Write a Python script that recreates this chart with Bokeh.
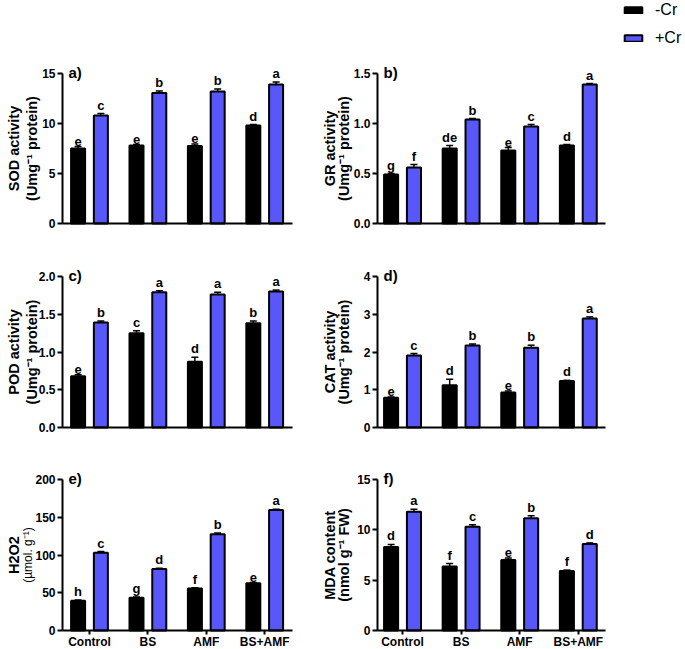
import numpy as np
from bokeh.plotting import figure
from bokeh.models import (Range1d, FixedTicker, ColumnDataSource, Whisker, TeeHead,
                          LabelSet, Label, Legend, LegendItem, NumeralTickFormatter, LinearAxis)
from bokeh.core.properties import value
from bokeh.layouts import gridplot
from bokeh.embed import file_html
from bokeh.resources import INLINE

# ---------------- data ----------------
categories = ["Control", "BS", "AMF", "BS+AMF"]
series_names = ["-Cr", "+Cr"]

sod_minus = [7.5, 7.8, 7.75, 9.8]
sod_plus = [10.8, 13.05, 13.2, 13.9]
sod_minus_err = [0.2, 0.1, 0.2, 0.1]
sod_plus_err = [0.2, 0.2, 0.25, 0.25]
sod_minus_let = ["e", "e", "e", "d"]
sod_plus_let = ["c", "b", "b", "a"]

gr_minus = [0.49, 0.75, 0.73, 0.78]
gr_plus = [0.56, 1.04, 0.97, 1.39]
gr_minus_err = [0.01, 0.03, 0.03, 0.01]
gr_plus_err = [0.03, 0.01, 0.02, 0.01]
gr_minus_let = ["g", "de", "e", "d"]
gr_plus_let = ["f", "b", "c", "a"]

pod_minus = [0.68, 1.25, 0.87, 1.38]
pod_plus = [1.39, 1.79, 1.76, 1.80]
pod_minus_err = [0.02, 0.03, 0.06, 0.03]
pod_plus_err = [0.02, 0.02, 0.03, 0.02]
pod_minus_let = ["e", "c", "d", "b"]
pod_plus_let = ["b", "a", "a", "a"]

cat_minus = [0.79, 1.12, 0.93, 1.23]
cat_plus = [1.91, 2.17, 2.11, 2.89]
cat_minus_err = [0.02, 0.16, 0.04, 0.02]
cat_plus_err = [0.05, 0.04, 0.07, 0.04]
cat_minus_let = ["e", "d", "e", "d"]
cat_plus_let = ["c", "b", "b", "a"]

h2o2_minus = [39.5, 43.5, 55.5, 62.5]
h2o2_plus = [103.0, 81.5, 127.5, 159.5]
h2o2_minus_err = [1.0, 1.0, 1.0, 1.0]
h2o2_plus_err = [1.5, 1.0, 1.5, 1.0]
h2o2_minus_let = ["h", "g", "f", "e"]
h2o2_plus_let = ["c", "d", "b", "a"]

mda_minus = [8.3, 6.35, 7.0, 5.9]
mda_plus = [11.8, 10.3, 11.15, 8.6]
mda_minus_err = [0.25, 0.3, 0.2, 0.1]
mda_plus_err = [0.25, 0.2, 0.25, 0.1]
mda_minus_let = ["d", "f", "e", "f"]
mda_plus_let = ["a", "c", "b", "d"]

sod_ticks = [0, 5, 10, 15]
gr_ticks = [0, 0.5, 1.0, 1.5]
pod_ticks = [0, 0.5, 1.0, 1.5, 2.0]
cat_ticks = [0, 1, 2, 3, 4]
h2o2_ticks = [0, 50, 100, 150, 200]
mda_ticks = [0, 5, 10, 15]

# ---------------- layout (pixels) ----------------
FONT = "Liberation Sans"
BLUE = "#5757FA"
COL_X = [(0, 312), (312, 685)]        # figure left/right on page
COL_FRAME = [(62, 292), (377, 605)]   # axes box left/right on page
COL_XR = [(-0.462, 3.476), (-0.427, 3.464)]
ROW_Y = [(0, 250), (250, 452), (452, 649)]
ROW_FRAME = [(73, 223), (276, 427), (479, 630)]
TITLE_OFF = [(-49, -31), (-48, -34)]


def panel(col, row, ticks, fmt, minus, plus, minus_err, plus_err, minus_let, plus_let,
          tag, t1, t2, t2_size="14.5px", t2_style="bold", t2_off=None):
    ymax = ticks[-1]
    fl, fr = COL_X[col]
    al, ar = COL_FRAME[col]
    x0, x1 = COL_XR[col]
    ppx = (ar - al) / (x1 - x0)
    ft, fb = ROW_Y[row]
    at, ab = ROW_FRAME[row]
    ppy = (ab - at) / ymax
    xr = Range1d(x0 - (al - fl) / ppx, x1 + (fr - ar) / ppx)
    yr = Range1d(-(fb - ab) / ppy, ymax + (at - ft) / ppy)

    p = figure(width=fr - fl, height=fb - ft, output_backend="svg", toolbar_location=None,
               x_range=xr, y_range=yr, x_axis_location=None, y_axis_location=None,
               min_border=0, min_border_left=0, min_border_right=0,
               min_border_top=0, min_border_bottom=0)
    p.outline_line_color = None
    p.grid.visible = False
    p.background_fill_color = "white"
    p.border_fill_color = "white"

    idx = np.arange(len(categories))
    xm = idx - 0.195
    xp = idx + 0.195
    rm = p.vbar(x=xm, top=minus, width=0.24, bottom=0, fill_color="black",
                line_color="black", line_width=2)
    rp = p.vbar(x=xp, top=plus, width=0.24, bottom=0, fill_color=BLUE,
                line_color="black", line_width=2)

    for xs, vals, errs, lets in ((xm, minus, minus_err, minus_let), (xp, plus, plus_err, plus_let)):
        src = ColumnDataSource(dict(x=list(xs), lower=list(vals),
                                    upper=[v + e for v, e in zip(vals, errs)], text=list(lets)))
        p.add_layout(Whisker(source=src, base="x", lower="lower", upper="upper", dimension="height",
                             line_color="black", line_width=1.5, lower_head=None,
                             upper_head=TeeHead(size=7, line_color="black", line_width=1.5)))
        p.add_layout(LabelSet(source=src, x="x", y="upper", text="text", text_align="center",
                              text_baseline="bottom", y_offset=1, text_font=value(FONT),
                              text_font_size=value("13px"), text_font_style=value("bold"),
                              text_color="black"))

    yax = LinearAxis(fixed_location=x0, bounds=(0, ymax), ticker=FixedTicker(ticks=ticks),
                     formatter=NumeralTickFormatter(format=fmt))
    xtk = list(idx) if row == 2 else []
    xax = LinearAxis(fixed_location=0, bounds=(x0, x1), ticker=FixedTicker(ticks=xtk))
    if row == 2:
        xax.major_label_overrides = {int(i): c for i, c in zip(idx, categories)}
    for ax in (xax, yax):
        ax.axis_line_width = 2
        ax.axis_line_color = "black"
        ax.major_tick_line_width = 2
        ax.major_tick_line_color = "black"
        ax.major_tick_in = 0
        ax.major_tick_out = 5
        ax.minor_tick_line_color = None
        ax.major_label_text_font = FONT
        ax.major_label_text_font_style = "bold"
        ax.major_label_text_font_size = "12px"
        ax.major_label_text_color = "black"
        ax.major_label_standoff = 2
    xax.major_tick_out = 4
    xax.major_label_standoff = 0
    p.add_layout(yax, "left")
    p.add_layout(xax, "below")

    p.add_layout(Label(x=x0, y=ymax, x_offset=6, y_offset=1, text=tag, text_font=FONT,
                       text_font_size="15px", text_font_style="bold", text_baseline="middle",
                       text_align="left", text_color="black"))
    o1, o2 = TITLE_OFF[col]
    if t2_off is not None:
        o2 = t2_off
    p.add_layout(Label(x=x0, y=ymax / 2, x_offset=o1, text=t1, angle=90, angle_units="deg",
                       text_font=FONT, text_font_size="14.5px", text_font_style="bold",
                       text_align="center", text_baseline="middle", text_color="black"))
    p.add_layout(Label(x=x0, y=ymax / 2, x_offset=o2, text=t2, angle=90, angle_units="deg",
                       text_font=FONT, text_font_size=t2_size, text_font_style=t2_style,
                       text_align="center", text_baseline="middle", text_color="black"))
    return p, rm, rp


SUP = "\u207b\u00b9"
pa, ra_m, ra_p = panel(0, 0, sod_ticks, "0", sod_minus, sod_plus, sod_minus_err, sod_plus_err,
                       sod_minus_let, sod_plus_let, "a)", "SOD activity", "(Umg" + SUP + " protein)")
pb, rb_m, rb_p = panel(1, 0, gr_ticks, "0.0", gr_minus, gr_plus, gr_minus_err, gr_plus_err,
                       gr_minus_let, gr_plus_let, "b)", "GR activity", "(Umg" + SUP + " protein)")
pc, _, _ = panel(0, 1, pod_ticks, "0.0", pod_minus, pod_plus, pod_minus_err, pod_plus_err,
                 pod_minus_let, pod_plus_let, "c)", "POD activity", "(Umg" + SUP + " protein)")
pd_, _, _ = panel(1, 1, cat_ticks, "0", cat_minus, cat_plus, cat_minus_err, cat_plus_err,
                  cat_minus_let, cat_plus_let, "d)", "CAT activity", "(Umg" + SUP + " protein)")
pe, _, _ = panel(0, 2, h2o2_ticks, "0", h2o2_minus, h2o2_plus, h2o2_minus_err, h2o2_plus_err,
                 h2o2_minus_let, h2o2_plus_let, "e)", "H2O2", "(\u00b5mol. g" + SUP + ")",
                 t2_size="12px", t2_style="normal", t2_off=-35)
pf, _, _ = panel(1, 2, mda_ticks, "0", mda_minus, mda_plus, mda_minus_err, mda_plus_err,
                 mda_minus_let, mda_plus_let, "f)", "MDA content", "(nmol g" + SUP + " FW)")

legend = Legend(items=[LegendItem(label=series_names[0], renderers=[rb_m]),
                       LegendItem(label=series_names[1], renderers=[rb_p])],
                location=(310, 203), orientation="vertical",
                glyph_width=22, glyph_height=8, label_height=10, label_standoff=11, spacing=10,
                padding=0, margin=0, border_line_color=None, background_fill_alpha=0,
                label_text_font=FONT, label_text_font_size="16px", label_text_color="black")
pb.add_layout(legend)

grid = gridplot([[pa, pb], [pc, pd_], [pe, pf]], toolbar_location=None)
open("out.html", "w").write(file_html(grid, INLINE))
